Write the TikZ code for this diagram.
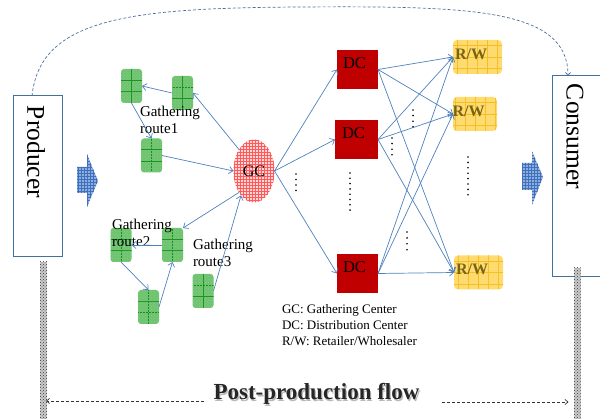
\documentclass[tikz,border=0pt]{standalone}
\usepackage{fontspec}
\setmainfont{Liberation Serif}
\usetikzlibrary{arrows.meta,patterns,shapes.geometric,calc}
\definecolor{edgeblue}{HTML}{4F81BD}
\definecolor{boxblue}{HTML}{41719C}
\definecolor{curveblue}{HTML}{4D6E9C}
\definecolor{dcred}{HTML}{C00000}
\definecolor{rwfill}{HTML}{FFDB6E}
\definecolor{rwgrid}{HTML}{F5BE20}
\definecolor{rwtext}{HTML}{7A6410}
\definecolor{gfill}{HTML}{6EC46E}
\definecolor{ggrid}{HTML}{12921A}
\definecolor{arrowfill}{HTML}{8FAEDC}
\definecolor{arrowgrid}{HTML}{3F6FBF}

\begin{document}
\begin{tikzpicture}[x=1pt,y=-1pt,
  every node/.style={inner sep=0pt, outer sep=0pt},
  flow/.style={draw=edgeblue, line width=0.7pt, -{Straight Barb[length=4pt,width=7pt]}},
  dashcurve/.style={draw=curveblue, line width=0.7pt, dash pattern=on 3pt off 2pt, -{Straight Barb[length=3pt,width=5pt]}},
  flowdash/.style={draw=black!80, line width=0.7pt, dash pattern=on 3pt off 2pt, -{Straight Barb[length=3pt,width=5pt]}},
  pbox/.style={rectangle, draw=boxblue, line width=1pt, fill=white},
  bigtext/.style={font=\fontsize{25.5}{28}\selectfont, rotate=-90, anchor=west},
  bar/.style={rectangle, minimum width=7pt, fill=gray!40, postaction={pattern=crosshatch dots, pattern color=black!80}},
  blockarrow/.style={fill=arrowfill, postaction={pattern=grid, pattern color=arrowgrid}},
  gnode/.style={rectangle, rounded corners=3pt, minimum width=21pt, minimum height=34pt, fill=gfill,
    postaction={pattern=crosshatch dots, pattern color=ggrid!50},
    path picture={
      \draw[ggrid, line width=0.7pt] (path picture bounding box.north) -- (path picture bounding box.south);
      \draw[ggrid, line width=0.7pt]
        ($(path picture bounding box.north west)!1/3!(path picture bounding box.south west)$) --
        ($(path picture bounding box.north east)!1/3!(path picture bounding box.south east)$);
      \draw[ggrid, line width=0.7pt]
        ($(path picture bounding box.north west)!2/3!(path picture bounding box.south west)$) --
        ($(path picture bounding box.north east)!2/3!(path picture bounding box.south east)$);
    }},
  routetext/.style={font=\fontsize{15}{17}\selectfont, align=left, anchor=north west},
  gcnode/.style={ellipse, minimum width=41pt, minimum height=63pt, fill=red!15,
    postaction={pattern=grid, pattern color=red!65}, font=\fontsize{16}{18}\selectfont},
  dcnode/.style={rectangle, minimum width=41pt, minimum height=39pt, fill=dcred,
    label={[font=\fontsize{16.5}{18}\selectfont, xshift=-3pt, yshift=6pt]center:DC}},
  rwnode/.style={rectangle, rounded corners=4pt, minimum height=34pt, fill=rwfill,
    postaction={pattern=dots, pattern color=rwgrid!50},
    path picture={
      \draw[rwgrid, line width=0.5pt, xstep=10pt, ystep=11.3pt]
        (path picture bounding box.south west) grid (path picture bounding box.north east);
    },
    label={[font=\bfseries\fontsize{16}{18}\selectfont, text=rwtext, xshift=-6.5pt, yshift=3pt]center:R/W}},
  vdot/.style={fill=black},
]
\useasboundingbox (0,0) rectangle (600,419);
\clip (0,0) rectangle (600,419);

% producer and consumer
\node[pbox, minimum width=49pt, minimum height=161pt] (prod) at (37.5,176.5) {};
\node[bigtext] (prodlabel) at (36,106) {Producer};
\node[pbox, minimum width=68pt, minimum height=201pt] (cons) at (586,176.5) {};
\node[bigtext] (conslabel) at (575,84) {Consumer};

% direct link producer -> consumer
\draw[dashcurve] ([xshift=-5.5pt]prod.north) .. controls (40,18) and (130,8) .. (300,7)
  .. controls (470,6) and (568,8) .. ([xshift=-18pt]cons.north);

% block arrows
\path[blockarrow] (77,167) -- (87,167) -- (87,154) -- (98,181) -- (87,207) -- (87,193) -- (77,193) -- cycle;
\path[blockarrow] (522,163) -- (532,163) -- (532,151) -- (543,177) -- (532,205) -- (532,190) -- (522,190) -- cycle;

% gathering points
\node[gnode] (g1) at (131.5,86) {};
\node[gnode] (g2) at (182.5,93) {};
\node[gnode] (g3) at (151.5,155.5) {};
\node[gnode] (g4) at (121,245) {};
\node[gnode] (g5) at (172.5,245) {};
\node[gnode] (g6) at (148.5,307) {};
\node[gnode] (g7) at (203,291) {};

\node[routetext] (r1) at (140,106) {Gathering\\route1};
\node[routetext] (r2) at (112,219) {Gathering\\route2};
\node[routetext] (r3) at (193,239) {Gathering\\route3};

% gathering center, distribution centers, retailers
\node[gcnode] (gc) at (254,171) {GC};
\node[dcnode] (dc1) at (357.5,69.5) {};
\node[dcnode, minimum width=43pt] (dc2) at (356.5,139.5) {};
\node[dcnode] (dc3) at (357.5,273.5) {};
\node[rwnode, minimum width=49pt] (rw1) at (477.5,57) {};
\node[rwnode, minimum width=44pt] (rw2) at (475,114) {};
\node[rwnode, minimum width=49pt] (rw3) at (478.5,272.5) {};

% gathering routes
\draw[flow] (g2.west) -- (g1.east);
\draw[flow] (g1.south) -- (g3.north);
\draw[flow] (g3.east) -- (gc.west);
\draw[flow] (gc.125) -- (g2.east);
\draw[flow] (gc.235) -- (g5.north east);
\draw[flow] (g5.west) -- (g4.east);
\draw[flow] (g4.south) -- (g6.north);
\draw[flow] (g6.east) -- (g5.south);
\draw[flow] (g7.east) -- (gc.242);

% distribution
\foreach \d in {dc1,dc2,dc3} \draw[flow] (gc.east) -- (\d.west);
\foreach \d in {dc1,dc2,dc3}
  \foreach \r in {rw1,rw2,rw3}
    \draw[flow] (\d.east) -- (\r.west);

% ellipsis dots
\foreach \k in {0,...,3} \fill[vdot] (296,174+5.5*\k) circle (0.9);
\foreach \k in {0,...,7} \fill[vdot] (350,173+5.3*\k) circle (0.9);
\foreach \k in {0,...,3} \fill[vdot] (413,110+5.6*\k) circle (0.9);
\foreach \k in {0,...,3} \fill[vdot] (392,138+5.6*\k) circle (0.9);
\foreach \k in {0,...,3} \fill[vdot] (407,232+5.9*\k) circle (0.9);
\foreach \k in {0,...,7} \fill[vdot] (468,157+5.4*\k) circle (0.9);

% legend
\node[font=\fontsize{13}{16}\selectfont, align=left, anchor=north west] (legend) at (282,304)
  {GC: Gathering Center\\DC: Distribution Center\\R/W: Retailer/Wholesaler};

% post-production flow
\node[bar, minimum height=165pt] (lbar) at (43.5,344.5) {};
\node[bar, minimum height=160pt] (rbar) at (577,348) {};
\node[font=\bfseries\fontsize{23}{26}\selectfont, text=gray!55, anchor=base] (titleshadow) at (317.7,401.2) {Post-production flow};
\node[font=\bfseries\fontsize{23}{26}\selectfont, text=black!85, anchor=base] (title) at (316.5,400) {Post-production flow};
\coordinate (lstart) at ([xshift=-10pt, yshift=-1pt]title.base west);
\coordinate (rstart) at ([xshift=23pt, yshift=-2pt]title.base east);
\draw[flowdash] (lstart) -- ($(lstart -| lbar.east)+(-1,0)$);
\draw[flowdash] (rstart) -- ($(rstart -| rbar.west)+(-5,0)$);
\end{tikzpicture}
\end{document}
